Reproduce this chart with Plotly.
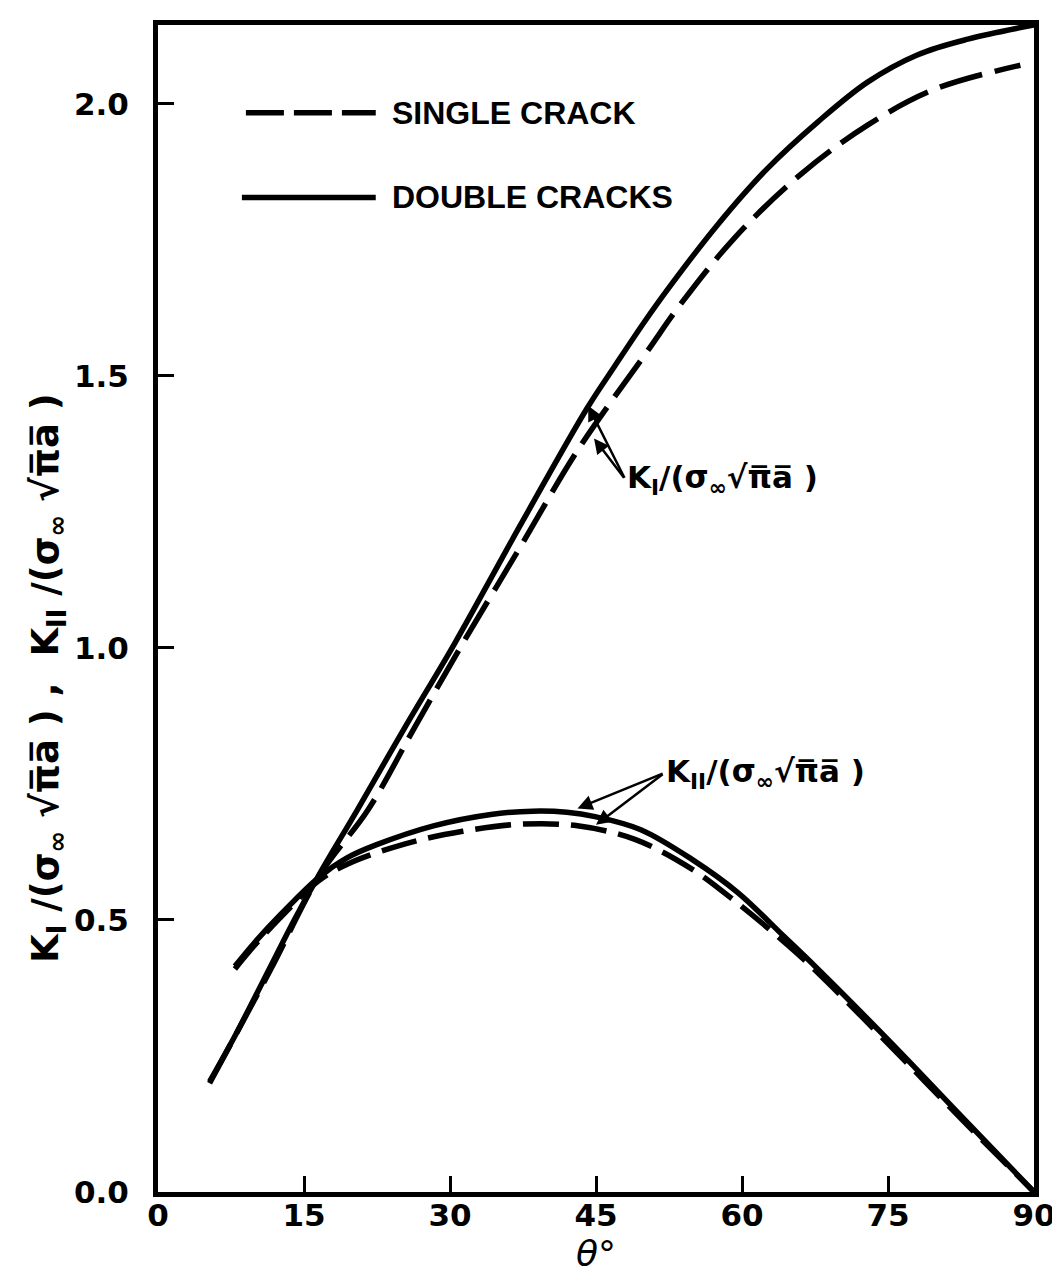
import plotly.graph_objects as go

# ---------------- data ----------------
theta_ki_double = [5.3, 8.0, 11.6, 14.0, 16.7, 20.5, 25.4, 30.5, 37.3, 44.1, 47.0, 50.0,
                   52.4, 57.5, 62.6, 67.8, 72.9, 78.0, 83.2, 90.0]
ki_double = [0.203, 0.29, 0.416, 0.50, 0.588, 0.703, 0.855, 1.009, 1.228, 1.441, 1.52, 1.60,
             1.66, 1.778, 1.881, 1.967, 2.04, 2.09, 2.119, 2.145]

theta_ki_single = [5.3, 11.6, 16.7, 21.6, 26.4, 31.1, 37.3, 43.1, 50.3, 53.7, 59.2, 66.0,
                   72.9, 79.8, 88.6]
ki_single = [0.20, 0.41, 0.585, 0.703, 0.855, 1.002, 1.188, 1.363, 1.546, 1.632, 1.753, 1.87,
             1.961, 2.027, 2.071]

theta_kii_double = [7.9, 10.0, 12.6, 16.5, 19.5, 22.4, 28.3, 34.2, 38.5, 42.0, 44.9, 49.6,
                    54.9, 59.6, 64.3, 67.5, 75.0, 82.5, 90.0]
kii_double = [0.415, 0.46, 0.51, 0.578, 0.615, 0.638, 0.673, 0.694, 0.70, 0.698, 0.69, 0.666,
              0.611, 0.55, 0.47, 0.415, 0.28, 0.14, 0.0]

theta_kii_single = [7.9, 10.0, 12.6, 16.5, 19.5, 25.4, 31.3, 37.2, 43.1, 49.0, 54.9, 59.6, 64.3,
                    67.5, 75.0, 82.5, 90.0]
kii_single = [0.41, 0.455, 0.505, 0.572, 0.603, 0.64, 0.663, 0.676, 0.673, 0.648, 0.593, 0.53, 0.46,
              0.408, 0.273, 0.135, 0.0]

x_ticks = [0, 15, 30, 45, 60, 75, 90]
x_tick_labels = ["0", "15", "30", "45", "60", "75", "90"]
y_ticks = [0.0, 0.5, 1.0, 1.5, 2.0]
y_tick_labels = ["0.0", "0.5", "1.0", "1.5", "2.0"]

series_names = ["SINGLE CRACK", "DOUBLE CRACKS"]

# ---------------- figure ----------------
LW = 5.5
DASH_KI = "44px,13px"
DASH_KII = "36px,12px"

fig = go.Figure()
fig.add_trace(go.Scatter(x=theta_ki_single, y=ki_single, mode="lines", name=series_names[0],
                         line=dict(color="black", width=LW, dash=DASH_KI, shape="spline"),
                         showlegend=False))
fig.add_trace(go.Scatter(x=theta_kii_single, y=kii_single, mode="lines", name=series_names[0],
                         line=dict(color="black", width=LW, dash=DASH_KII, shape="spline"),
                         showlegend=False))
fig.add_trace(go.Scatter(x=theta_ki_double, y=ki_double, mode="lines", name=series_names[1],
                         line=dict(color="black", width=LW, shape="spline"),
                         showlegend=False))
fig.add_trace(go.Scatter(x=theta_kii_double, y=kii_double, mode="lines", name=series_names[1],
                         line=dict(color="black", width=LW, shape="spline"),
                         showlegend=False))

FONT = "DejaVu Sans"
tick_font = dict(family=FONT, size=31, color="black", weight="bold")

fig.update_layout(
    width=1060, height=1285,
    margin=dict(l=150, r=33, t=13, b=101),
    paper_bgcolor="white", plot_bgcolor="white",
    font=dict(family=FONT, color="black"),
    showlegend=False,
)
fig.update_xaxes(
    range=[0, 90], tickmode="array", tickvals=x_ticks, ticktext=x_tick_labels,
    ticks="inside", ticklen=16, tickwidth=3, tickcolor="black",
    showline=True, linewidth=5, linecolor="black", mirror=True,
    showgrid=False, zeroline=False, tickfont=tick_font, ticklabelstandoff=-8,
    title=dict(text="<i>θ°</i>", font=dict(family=FONT, size=36), standoff=4),
)
fig.update_yaxes(
    range=[0, 2.145], tickmode="array", tickvals=y_ticks, ticktext=y_tick_labels,
    ticks="inside", ticklen=16, tickwidth=3, tickcolor="black",
    showline=True, linewidth=5, linecolor="black", mirror=True,
    showgrid=False, zeroline=False, tickfont=tick_font, ticklabelstandoff=18,
)

plot_l, plot_r, plot_t, plot_b = 150, 1027, 13, 1184
def to_paper(xp, yp):
    return ((xp - plot_l) / (plot_r - plot_l), (plot_b - yp) / (plot_b - plot_t))

# y-axis title as rotated annotation (placed like the reference, below centre)
tx_t, ty_t = to_paper(40, 668)
fig.add_annotation(xref="paper", yref="paper", x=tx_t, y=ty_t, textangle=-90,
                   xanchor="center", yanchor="middle", showarrow=False,
                   text="<b>K<sub>I</sub> /(σ<sub>∞</sub> √π̅a̅ ) ,  K<sub>II</sub> /(σ<sub>∞</sub> √π̅a̅ )</b>",
                   font=dict(family=FONT, size=37, color="black"))

# legend drawn as sample lines + labels
x0, y0 = to_paper(238, 101)
x1, _ = to_paper(368, 101)
fig.add_shape(type="line", xref="paper", yref="paper", x0=x0, x1=x1, y0=y0, y1=y0,
              line=dict(color="black", width=LW, dash="38px,10px"))
x0, y1 = to_paper(234, 186)
fig.add_shape(type="line", xref="paper", yref="paper", x0=x0, x1=x1, y0=y1, y1=y1,
              line=dict(color="black", width=LW))
tx, _ = to_paper(382, 0)
fig.add_annotation(xref="paper", yref="paper", x=tx, y=y0, xanchor="left", yanchor="middle",
                   text="<b>" + series_names[0] + "</b>", showarrow=False,
                   font=dict(family="Liberation Sans", size=32, color="black"))
fig.add_annotation(xref="paper", yref="paper", x=tx, y=y1, xanchor="left", yanchor="middle",
                   text="<b>" + series_names[1] + "</b>", showarrow=False,
                   font=dict(family="Liberation Sans", size=32, color="black"))

lab_font = dict(family=FONT, size=31, color="black")
ki_text = "<b>K<sub>I</sub>/(σ<sub>∞</sub>√π̅a̅ )</b>"
kii_text = "<b>K<sub>II</sub>/(σ<sub>∞</sub>√π̅a̅ )</b>"

# K_I label with two arrow heads (solid & dashed)
fig.add_annotation(x=44.2, y=1.445, ax=48.0, ay=1.31, axref="x", ayref="y",
                   text="", showarrow=True, arrowhead=2, arrowsize=1.2, arrowwidth=2.5,
                   arrowcolor="black")
fig.add_annotation(x=44.8, y=1.385, ax=48.0, ay=1.31, axref="x", ayref="y",
                   text="", showarrow=True, arrowhead=2, arrowsize=1.2, arrowwidth=2.5,
                   arrowcolor="black")
fig.add_annotation(x=48.0, y=1.31, xanchor="left", yanchor="middle", text=ki_text,
                   showarrow=False, font=lab_font)

# K_II label with two arrows
fig.add_annotation(x=43.1, y=0.705, ax=52.0, ay=0.77, axref="x", ayref="y",
                   text="", showarrow=True, arrowhead=2, arrowsize=1.2, arrowwidth=2.5,
                   arrowcolor="black")
fig.add_annotation(x=45.0, y=0.675, ax=52.0, ay=0.77, axref="x", ayref="y",
                   text="", showarrow=True, arrowhead=2, arrowsize=1.2, arrowwidth=2.5,
                   arrowcolor="black")
fig.add_annotation(x=52.0, y=0.77, xanchor="left", yanchor="middle", text=kii_text,
                   showarrow=False, font=lab_font)

fig.write_html("out.html")
